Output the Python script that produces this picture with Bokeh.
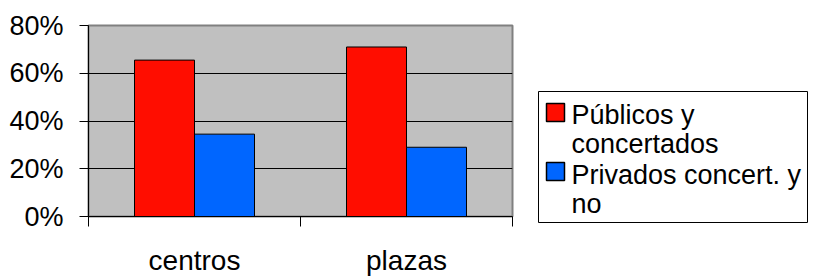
from bokeh.plotting import figure
from bokeh.layouts import row
from bokeh.models import Range1d, FixedTicker, PrintfTickFormatter, ColumnDataSource
from bokeh.core.properties import value
from bokeh.embed import file_html
from bokeh.resources import INLINE

# ---- data ----
categories = ["centros", "plazas"]
series_names = ["Públicos  y\nconcertados", "Privados concert. y\nno"]
publicos = [65.5, 71.0]
privados = [34.5, 29.0]
series_values = [publicos, privados]
series_colors = ["#FF0D00", "#0066FF"]
y_ticks = [0, 20, 40, 60, 80]

FONT = "Liberation Sans"
H = 278

# ---- main chart ----
p = figure(width=515, height=H, output_backend="svg", toolbar_location=None,
           x_range=Range1d(0, len(categories)), y_range=Range1d(0, 80),
           min_border_left=88, min_border_right=3, min_border_top=25,
           min_border_bottom=H - 217)
p.background_fill_color = "#C0C0C0"
p.border_fill_color = "white"
p.outline_line_color = "#808080"
p.outline_line_width = 2

bar_w = 60 / 212
centers = [i + 0.5 for i in range(len(categories))]
n = len(series_values)
for k, (vals, col) in enumerate(zip(series_values, series_colors)):
    xs = [c + (k - (n - 1) / 2) * bar_w for c in centers]
    src = ColumnDataSource(dict(x=xs, top=vals))
    p.vbar(x="x", top="top", bottom=0, width=bar_w, source=src,
           fill_color=col, line_color="black", line_width=1)

# y axis
p.yaxis.ticker = FixedTicker(ticks=y_ticks)
p.yaxis.formatter = PrintfTickFormatter(format="%d%%")
p.yaxis.major_tick_out = 9
p.yaxis.major_tick_in = 0
p.yaxis.minor_tick_line_color = None
p.yaxis.axis_line_color = "black"
p.yaxis.major_tick_line_color = "black"
p.yaxis.major_label_standoff = 16
p.yaxis.major_label_text_font = FONT
p.yaxis.major_label_text_font_size = "27px"
p.yaxis.major_label_text_color = "black"

# x axis: labels at category centres, ticks at category boundaries
p.xaxis.ticker = FixedTicker(ticks=centers, minor_ticks=list(range(len(categories) + 1)))
p.xaxis.major_label_overrides = {c: lab for c, lab in zip(centers, categories)}
p.xaxis.major_tick_out = 0
p.xaxis.major_tick_in = 0
p.xaxis.minor_tick_out = 10
p.xaxis.minor_tick_in = 0
p.xaxis.minor_tick_line_color = "black"
p.xaxis.axis_line_color = "black"
p.xaxis.major_label_standoff = 18
p.xaxis.major_label_text_font = FONT
p.xaxis.major_label_text_font_size = "28px"
p.xaxis.major_label_text_color = "black"

p.xgrid.grid_line_color = None
p.ygrid.ticker = FixedTicker(ticks=y_ticks)
p.ygrid.grid_line_color = "black"
p.ygrid.grid_line_width = 1

# ---- legend panel ----
LW = 295
leg = figure(width=LW, height=H, output_backend="svg", toolbar_location=None,
             x_range=Range1d(0, LW), y_range=Range1d(H, 0),
             min_border=0, x_axis_type=None, y_axis_type=None)
for fig in (p, leg):
    try:
        fig.frame_align = False
    except Exception:
        pass
leg.grid.visible = False
leg.outline_line_color = None
leg.background_fill_color = "white"
leg.border_fill_color = "white"

leg.quad(left=[23], right=[292], top=[91], bottom=[222],
         fill_color="white", line_color="black", line_width=1)

sw_tops = [103, 162]
first_baselines = [114, 174]
line_step = 29
tx, ty, tt = [], [], []
for name, col, st, fb in zip(series_names, series_colors, sw_tops, first_baselines):
    leg.quad(left=[31], right=[49], top=[st], bottom=[st + 18],
             fill_color=col, line_color="black", line_width=1.5)
    for j, line in enumerate(name.split("\n")):
        tx.append(56)
        ty.append(fb + j * line_step)
        tt.append(line)
leg.text(x=tx, y=ty, text=tt, text_font=value(FONT), text_font_size="27px",
         text_baseline="alphabetic", text_align="left", text_color="black")

layout = row(p, leg)
open("out.html", "w").write(file_html(layout, INLINE))
